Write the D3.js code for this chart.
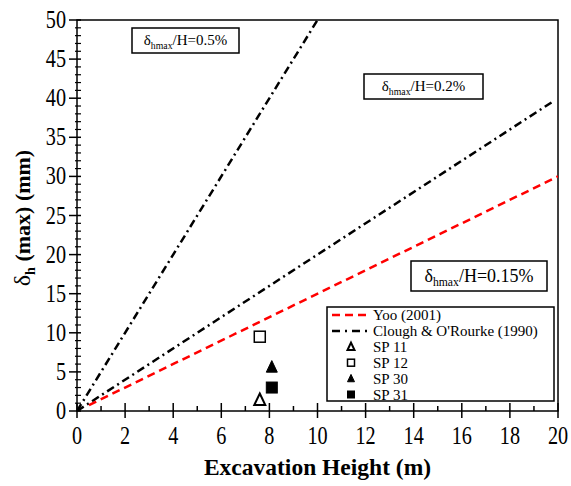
<!DOCTYPE html>
<html>
<head>
<meta charset="utf-8">
<script src="https://cdn.jsdelivr.net/npm/d3@7"></script>
<style>
  body { margin: 0; background: #fff; }
  svg { display: block; font-family: "Liberation Serif", "Times New Roman", serif; }
</style>
</head>
<body>
<svg id="chart" width="571" height="486"></svg>
<script>
// Trend lines (H in m, delta in mm)
const yooH = [0.5, 20];
const yooD = [0.75, 30];
const clough02H = [0, 19.8];
const clough02D = [0, 39.6];
const clough05H = [0, 10];
const clough05D = [0, 50];

// Measured points
const spNames = ['SP 11', 'SP 12', 'SP 30', 'SP 31'];
const spH = [7.6, 7.6, 8.1, 8.1];
const spD = [1.4, 9.5, 5.6, 3.0];
const spShape = ['triangle', 'square', 'triangle', 'square'];
const spFilled = [false, false, true, true];

const xMajor = [0, 2, 4, 6, 8, 10, 12, 14, 16, 18, 20];
const yMajor = [0, 5, 10, 15, 20, 25, 30, 35, 40, 45, 50];

const svg = d3.select('#chart');
const L = 77, R = 558, T = 20, B = 411;
const x = d3.scaleLinear().domain([0, 20]).range([L, R]);
const y = d3.scaleLinear().domain([0, 50]).range([B, T]);

// frame
svg.append('rect').attr('x', L).attr('y', T).attr('width', R - L).attr('height', B - T)
  .attr('fill', 'none').attr('stroke', '#000').attr('stroke-width', 1.5);

// x axis
const xMinor = d3.range(0, 21, 1).filter(v => v % 2 !== 0);
const gx = svg.append('g').attr('transform', `translate(0,${B})`);
gx.selectAll('.maj').data(xMajor).enter().append('line')
  .attr('x1', d => x(d)).attr('x2', d => x(d)).attr('y1', -8).attr('y2', 7)
  .attr('stroke', '#000').attr('stroke-width', 1.5);
gx.selectAll('.min').data(xMinor).enter().append('line')
  .attr('x1', d => x(d)).attr('x2', d => x(d)).attr('y1', -5).attr('y2', 0)
  .attr('stroke', '#000').attr('stroke-width', 1.5);
gx.selectAll('text').data(xMajor).enter().append('text')
  .attr('transform', d => `translate(${x(d)},33) scale(0.92,1.12)`)
  .attr('text-anchor', 'middle').attr('font-size', 22).text(d => d);

// y axis
const yMinor = d3.range(0, 51, 1).filter(v => v % 5 !== 0);
const gy = svg.append('g');
gy.selectAll('.maj').data(yMajor).enter().append('line')
  .attr('x1', L - 8).attr('x2', L + 4).attr('y1', d => y(d)).attr('y2', d => y(d))
  .attr('stroke', '#000').attr('stroke-width', 1.5);
gy.selectAll('.min').data(yMinor).enter().append('line')
  .attr('x1', L - 2).attr('x2', L + 4).attr('y1', d => y(d)).attr('y2', d => y(d))
  .attr('stroke', '#000').attr('stroke-width', 1.2);
gy.selectAll('text').data(yMajor).enter().append('text')
  .attr('transform', d => `translate(${L - 11},${y(d) + 8}) scale(0.92,1.12)`)
  .attr('text-anchor', 'end').attr('font-size', 22).text(d => d);

// axis titles
svg.append('text').attr('x', (L + R) / 2).attr('y', 475).attr('text-anchor', 'middle')
  .attr('font-size', 23.5).attr('font-weight', 'bold').text('Excavation Height (m)');
const yt = svg.append('text').attr('transform', 'translate(30,218) rotate(-90)')
  .attr('text-anchor', 'middle').attr('font-size', 22).attr('font-weight', 'bold');
yt.append('tspan').attr('font-weight', 'normal').attr('font-size', 24).text('δ');
yt.append('tspan').attr('font-size', 14).attr('dy', 5).text('h');
yt.append('tspan').attr('dy', -5).text(' (max) (mm)');

// lines
const line = d3.line().x(d => x(d[0])).y(d => y(d[1]));
const clip = svg.append('clipPath').attr('id', 'clip');
clip.append('rect').attr('x', L).attr('y', T).attr('width', R - L).attr('height', B - T);
const plot = svg.append('g').attr('clip-path', 'url(#clip)');

const cloughDash = '8,4,2,4';
plot.append('path').datum(d3.zip(clough05H, clough05D)).attr('d', line)
  .attr('fill', 'none').attr('stroke', '#000').attr('stroke-width', 2.5).attr('stroke-dasharray', cloughDash);
plot.append('path').datum(d3.zip(clough02H, clough02D)).attr('d', line)
  .attr('fill', 'none').attr('stroke', '#000').attr('stroke-width', 2.5).attr('stroke-dasharray', cloughDash);
plot.append('path').datum(d3.zip(yooH, yooD)).attr('d', line)
  .attr('fill', 'none').attr('stroke', '#ff0000').attr('stroke-width', 2.5).attr('stroke-dasharray', '8,5');

// markers
function marker(g, shape, filled, cx, cy, s) {
  if (shape === 'triangle') {
    g.append('path')
      .attr('d', `M${cx},${cy - s * 0.6}L${cx + s / 2},${cy + s * 0.45}L${cx - s / 2},${cy + s * 0.45}Z`)
      .attr('fill', filled ? '#000' : '#fff').attr('stroke', '#000').attr('stroke-width', filled ? 1 : 2);
  } else {
    g.append('rect').attr('x', cx - s / 2).attr('y', cy - s / 2).attr('width', s).attr('height', s)
      .attr('fill', filled ? '#000' : '#fff').attr('stroke', '#000').attr('stroke-width', filled ? 1 : 1.5);
  }
}
spNames.forEach((n, i) => marker(svg, spShape[i], spFilled[i], x(spH[i]), y(spD[i]), 11));

// annotation boxes
function annot(bx, by, bw, bh, fs, label) {
  svg.append('rect').attr('x', bx).attr('y', by).attr('width', bw).attr('height', bh)
    .attr('fill', '#fff').attr('stroke', '#000').attr('stroke-width', 1.5);
  const t = svg.append('text').attr('x', bx + bw / 2).attr('y', by + bh / 2 + fs * 0.32)
    .attr('text-anchor', 'middle').attr('font-size', fs);
  t.append('tspan').text('δ');
  t.append('tspan').attr('font-size', fs * 0.65).attr('dy', fs * 0.25).text('hmax');
  t.append('tspan').attr('dy', -fs * 0.25).text('/H=' + label);
}
annot(132, 28, 107, 25, 15, '0.5%');
annot(364, 74, 119, 25, 15, '0.2%');
annot(411, 261, 136, 30, 18, '0.15%');

// legend
const lg = svg.append('g');
lg.append('rect').attr('x', 327).attr('y', 307).attr('width', 227).attr('height', 94)
  .attr('fill', '#fff').attr('stroke', '#000').attr('stroke-width', 1.5);
const legendNames = ['Yoo (2001)', 'Clough & O\'Rourke (1990)'].concat(spNames);
const rowY = i => 315 + i * 15.9;
legendNames.forEach((n, i) => {
  lg.append('text').attr('x', 373).attr('y', rowY(i) + 5).attr('font-size', 15).text(n);
});
lg.append('line').attr('x1', 332).attr('x2', 368).attr('y1', rowY(0)).attr('y2', rowY(0))
  .attr('stroke', '#ff0000').attr('stroke-width', 2.5).attr('stroke-dasharray', '8,5');
lg.append('line').attr('x1', 332).attr('x2', 368).attr('y1', rowY(1)).attr('y2', rowY(1))
  .attr('stroke', '#000').attr('stroke-width', 2.5).attr('stroke-dasharray', '8,5,2,5');
spNames.forEach((n, i) => marker(lg, spShape[i], spFilled[i], 351, rowY(i + 2), 7));
</script>
</body>
</html>
